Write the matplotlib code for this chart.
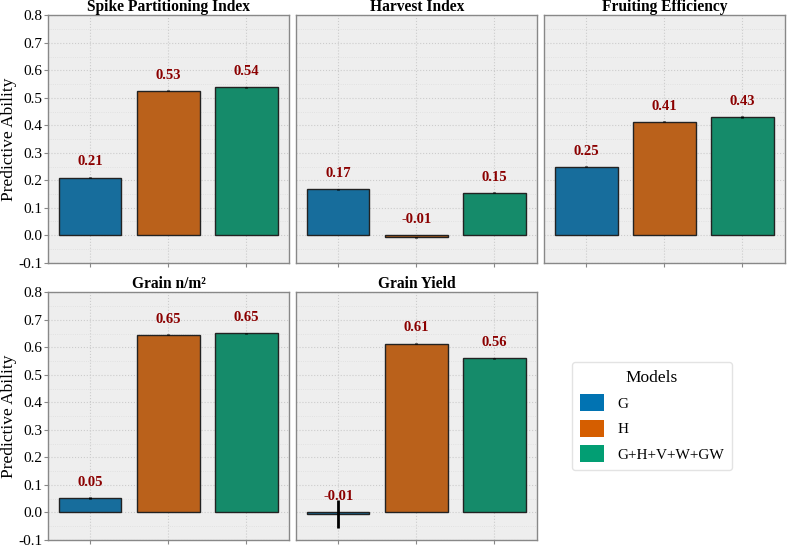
import matplotlib
matplotlib.use("Agg")
import matplotlib.pyplot as plt
import seaborn as sns
from matplotlib.patches import Patch
from matplotlib.ticker import MultipleLocator, FuncFormatter

plt.rcParams['font.family'] = ['Liberation Serif', 'DejaVu Serif']

traits = ["Spike Partitioning Index", "Harvest Index", "Fruiting Efficiency", "Grain n/m²", "Grain Yield"]
models = ["G", "H", "G+H+V+W+GW"]
values = {
    "Spike Partitioning Index": [0.21, 0.526, 0.539],
    "Harvest Index": [0.167, -0.008, 0.154],
    "Fruiting Efficiency": [0.249, 0.413, 0.430],
    "Grain n/m²": [0.053, 0.646, 0.651],
    "Grain Yield": [-0.006, 0.614, 0.560],
}
labels = {
    "Spike Partitioning Index": ["0.21", "0.53", "0.54"],
    "Harvest Index": ["0.17", "-0.01", "0.15"],
    "Fruiting Efficiency": ["0.25", "0.41", "0.43"],
    "Grain n/m²": ["0.05", "0.65", "0.65"],
    "Grain Yield": ["-0.01", "0.61", "0.56"],
}
errors = {
    "Spike Partitioning Index": [0.003, 0.002, 0.002],
    "Harvest Index": [0.003, 0.003, 0.002],
    "Fruiting Efficiency": [0.002, 0.002, 0.002],
    "Grain n/m²": [0.003, 0.002, 0.002],
    "Grain Yield": [0.05, 0.002, 0.002],
}

base_colors = ["#0173B2", "#D55E00", "#029E73"]
bar_colors = [sns.desaturate(c, 0.75) for c in base_colors]

fig, axes = plt.subplots(2, 3, figsize=(7.87, 5.48), dpi=100, sharey=True)
fig.subplots_adjust(left=0.061, right=0.998, top=0.972, bottom=0.015, wspace=0.028, hspace=0.12)

for i, trait in enumerate(traits):
    ax = axes.flat[i]
    ax.set_facecolor("#EEEEEE")
    x = list(range(len(models)))
    ax.bar(x, values[trait], width=0.8, color=bar_colors, edgecolor="#222222", linewidth=1.0, zorder=3)
    ax.errorbar(x, values[trait], yerr=errors[trait], fmt="none", ecolor="black", elinewidth=2, capsize=0, zorder=4)
    for xi, v, lab in zip(x, values[trait], labels[trait]):
        ax.text(xi, max(v, 0) + 0.033, lab, ha="center", va="bottom", color="#8B0000",
                fontsize=10.5, fontweight="bold", zorder=5)
    ax.set_title(trait, fontsize=11.2, fontweight="bold", pad=3)
    ax.set_ylim(-0.1, 0.8)
    ax.set_xlim(-0.54, 2.55)
    ax.set_xticks(x)
    ax.set_xticklabels([])
    ax.set_axisbelow(True)
    for s in ax.spines.values():
        s.set_color("#888888")
        s.set_linewidth(1.0)

ax0 = axes.flat[0]
ax0.yaxis.set_major_locator(MultipleLocator(0.1))
ax0.yaxis.set_minor_locator(MultipleLocator(0.05))
ax0.yaxis.set_major_formatter(FuncFormatter(lambda v, p: f"{v:.1f}".replace("-0.0", "0.0")))

for i, trait in enumerate(traits):
    ax = axes.flat[i]
    ax.grid(True, which="major", color="#CCCCCC", linestyle=":", linewidth=0.8, zorder=0)
    ax.grid(True, which="minor", axis="y", color="#DDDDDD", linestyle=":", linewidth=0.6, zorder=0)
    ax.tick_params(axis="y", which="minor", length=0)
    ax.tick_params(axis="both", which="major", labelsize=11, length=3, color="#888888", pad=1)
    if i % 3 == 0:
        ax.set_ylabel("Predictive Ability", fontsize=12.5, labelpad=1)
        ax.tick_params(axis="y", which="both", labelleft=True)
    else:
        ax.tick_params(axis="y", which="both", left=False, labelleft=False)

axes.flat[5].axis("off")
handles = [Patch(facecolor=c, edgecolor="none") for c in base_colors]
leg = axes.flat[5].legend(handles, models, title="Models", loc="center", bbox_to_anchor=(0.447, 0.5),
                          fontsize=11, title_fontsize=12.5, frameon=True, handlelength=1.6, handleheight=1.35,
                          handletextpad=0.85, labelspacing=0.55, borderpad=0.5)
leg.get_frame().set_edgecolor("#DDDDDD")

fig.savefig("out.png", dpi=100)
